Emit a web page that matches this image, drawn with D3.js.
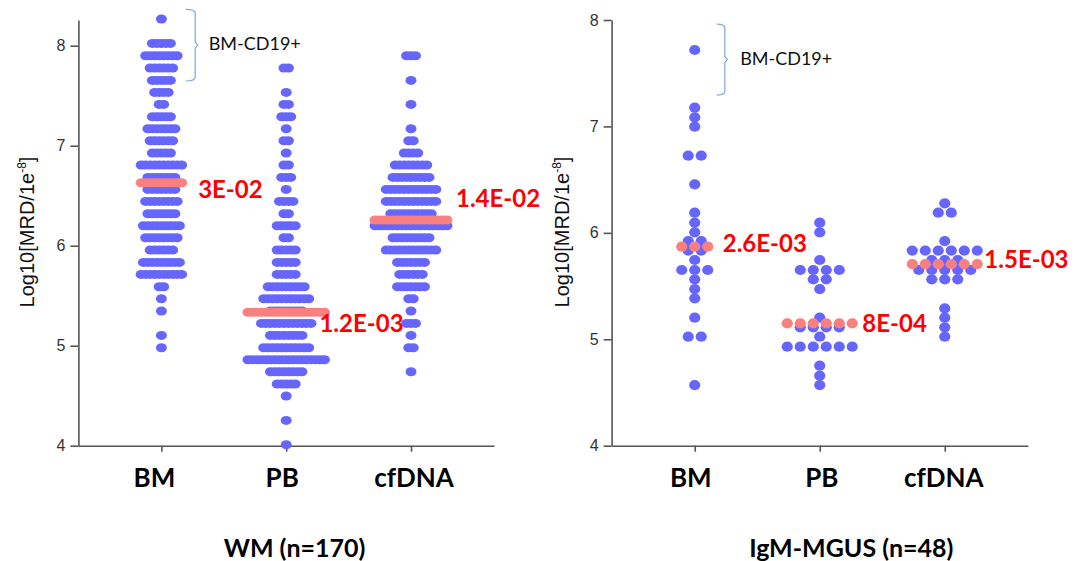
<!DOCTYPE html>
<html><head><meta charset="utf-8">
<script src="https://cdn.jsdelivr.net/npm/d3@7"></script>
<style>body{margin:0;background:#fff}</style>
</head><body><svg id="c" width="1075" height="561"></svg>
<script>
const categories = ["BM","PB","cfDNA"];
const yTicks = [4,5,6,7,8];
// WM panel rows: [log10(MRD/1e-8), number of dots in the row]
const wmBM = [[8.267,1],[8.023,5],[7.90,8],[7.777,6],[7.653,5],[7.533,4],[7.413,2],[7.29,5],[7.17,7],[7.05,6],[6.927,5],[6.807,10],[6.683,7],[6.563,7],[6.443,8],[6.32,7],[6.2,9],[6.08,8],[5.957,6],[5.833,9],[5.713,10],[5.59,2],[5.47,1],[5.347,1],[5.103,1],[4.98,1]];
const wmPB = [[7.777,2],[7.533,1],[7.413,2],[7.29,3],[7.17,1],[7.05,2],[6.927,1],[6.807,2],[6.683,3],[6.563,1],[6.443,4],[6.32,2],[6.2,5],[6.08,2],[5.957,5],[5.833,5],[5.713,5],[5.59,9],[5.47,11],[5.347,8],[5.223,12],[5.103,8],[4.98,11],[4.86,18],[4.74,8],[4.617,5],[4.497,1],[4.253,1],[4.01,1]];
const wmCF = [[7.9,3],[7.653,1],[7.413,1],[7.17,1],[7.05,2],[6.927,4],[6.807,8],[6.683,9],[6.563,12],[6.443,12],[6.32,10],[6.2,17],[6.08,9],[5.957,12],[5.833,7],[5.713,6],[5.59,7],[5.47,2],[5.347,1],[5.223,3],[5.103,1],[4.98,2],[4.74,1]];
const wmMedians = [6.63, 5.334, 6.257];
const wmMedianLabels = ["3E-02","1.2E-03","1.4E-02"];
// IgM-MGUS panel rows
const mgBM = [[7.718,1],[7.176,1],[7.085,1],[6.998,1],[6.725,2],[6.456,1],[6.19,1],[6.096,1],[6.005,1],[5.923,2],[5.833,2],[5.745,1],[5.651,3],[5.563,1],[5.472,1],[5.385,1],[5.203,1],[5.024,2],[4.57,1]];
const mgPB = [[6.096,1],[6.005,1],[5.745,1],[5.651,4],[5.563,2],[5.472,1],[5.203,1],[5.112,4],[5.024,1],[4.93,6],[4.752,1],[4.658,1],[4.57,1]];
const mgCF = [[6.277,1],[6.19,2],[5.923,1],[5.833,6],[5.745,3],[5.651,5],[5.563,3],[5.29,1],[5.203,1],[5.112,1],[5.024,1]];
const mgMedians = [5.87, 5.15, 5.707];
const mgMedianLabels = ["2.6E-03","8E-04","1.5E-03"];
const wmTitle = "WM (n=170)";
const mgTitle = "IgM-MGUS (n=48)";
const bracketLabel = "BM-CD19+";
const wmBracket = [7.647, 8.364];
const mgBracket = [7.295, 7.962];

const DOT = "#6666FF", MED = "#FA8080";
const svg = d3.select("#c");
const panels = [
 {groups:[wmBM,wmPB,wmCF], medians:wmMedians, medLabels:wmMedianLabels, title:wmTitle, bracket:wmBracket,
  left:78.4, right:494, top:20, bottom:445.7, yMax:8.257, step:4.5, rx:5.5, ry:4.5,
  labOff:[[11,15.3],[-10.5,19.2],[3.5,-13.4]], catDx:[-7,-4,3], yTitleX:34, braceDx:33.8, braceHook:9.5, braceTextDx:47.3, titleX:294.5},
 {groups:[mgBM,mgPB,mgCF], medians:mgMedians, medLabels:mgMedianLabels, title:mgTitle, bracket:mgBracket,
  left:611.6, right:1027.9, top:20, bottom:445.7, yMax:8, step:13, rx:5.6, ry:5.1,
  labOff:[[9.4,5],[4.5,8.4],[1.5,4.3]], catDx:[-4,2,-1], yTitleX:569, braceDx:30.1, braceHook:8, braceTextDx:45.4, titleX:851.3}
];

panels.forEach(p => {
  const g = svg.append("g");
  const x = d3.scalePoint().domain(categories).range([p.left, p.right]).padding(0.665);
  const y = d3.scaleLinear().domain([4, p.yMax]).range([p.bottom, p.top]);

  // axes
  const ya = g.append("g").attr("transform", `translate(${p.left},0)`)
    .call(d3.axisLeft(y).tickValues(yTicks).tickSize(8).tickPadding(5).tickSizeOuter(0).tickFormat(d3.format("d")));
  const xa = g.append("g").attr("transform", `translate(0,${p.bottom})`)
    .call(d3.axisBottom(x).tickSize(6).tickSizeOuter(0).tickFormat(""));
  [ya, xa].forEach(a => {
    a.select(".domain").attr("stroke", "#555").attr("stroke-width", 1.6);
    a.selectAll(".tick line").attr("stroke", "#555").attr("stroke-width", 1.6);
    a.selectAll(".tick text").attr("fill", "#333").style("font-family", "'Liberation Sans', Arial, sans-serif").style("font-size", "16px");
  });

  // dots
  const dots = [];
  p.groups.forEach((rows, gi) => {
    rows.forEach(([v, n]) => {
      for (let k = 0; k < n; k++) dots.push({cat: categories[gi], v, off: (k - (n - 1) / 2) * p.step});
    });
  });
  g.append("g").selectAll("ellipse").data(dots).join("ellipse")
    .attr("cx", d => x(d.cat) + d.off).attr("cy", d => y(d.v))
    .attr("rx", p.rx).attr("ry", p.ry).attr("fill", DOT);

  // medians
  const meds = [];
  p.groups.forEach((rows, gi) => {
    const n = d3.max(rows, r => r[1]);
    for (let k = 0; k < n; k++) meds.push({cat: categories[gi], v: p.medians[gi], off: (k - (n - 1) / 2) * p.step});
  });
  g.append("g").selectAll("ellipse").data(meds).join("ellipse")
    .attr("cx", d => x(d.cat) + d.off).attr("cy", d => y(d.v))
    .attr("rx", p.rx).attr("ry", p.ry).attr("fill", MED);

  // median labels
  g.append("g").selectAll("text").data(p.medLabels).join("text")
    .attr("x", (d, i) => x(categories[i]) + (d3.max(p.groups[i], r => r[1]) - 1) / 2 * p.step + p.rx + p.labOff[i][0])
    .attr("y", (d, i) => y(p.medians[i]) + p.labOff[i][1])
    .attr("fill", "#FF0000").style("font-family", "Lato, sans-serif").style("font-weight", "bold").style("font-size", "24px")
    .text(d => d);

  // category labels
  g.append("g").selectAll("text").data(categories).join("text")
    .attr("x", (d, i) => x(d) + p.catDx[i]).attr("y", 487).attr("text-anchor", "middle")
    .attr("fill", "#000").style("font-family", "Lato, sans-serif").style("font-weight", "bold").style("font-size", "26px")
    .text(d => d);

  // title
  g.append("text").attr("x", p.titleX).attr("y", 557).attr("text-anchor", "middle")
    .attr("fill", "#000").style("font-family", "Lato, sans-serif").style("font-weight", "bold").style("font-size", "25px")
    .text(p.title);

  // y axis title
  const yt = g.append("text").attr("transform", `translate(${p.yTitleX},232) rotate(-90)`).attr("text-anchor", "middle")
    .attr("fill", "#111").style("font-family", "'Liberation Sans', Arial, sans-serif").style("font-size", "20px");
  yt.append("tspan").text("Log10[MRD/1e");
  yt.append("tspan").attr("dy", -8).style("font-size", "12px").text("-8");
  yt.append("tspan").attr("dy", 8).text("]");

  // bracket
  const cx = x(categories[0]);
  const ytop = y(p.bracket[1]), ybot = y(p.bracket[0]), ym = (ytop + ybot) / 2;
  const xv = cx + p.braceDx, xh = xv - p.braceHook;
  g.append("path")
    .attr("d", `M${xh},${ytop} Q${xv},${ytop} ${xv},${ytop+4} L${xv},${ym-3} L${xv+2.5},${ym} L${xv},${ym+3} L${xv},${ybot-4} Q${xv},${ybot} ${xh},${ybot}`)
    .attr("fill", "none").attr("stroke", "#7FA7D9").attr("stroke-width", 1.2);
  g.append("text").attr("x", cx + p.braceTextDx).attr("y", ym + 5)
    .attr("fill", "#111").style("font-family", "Lato, sans-serif").style("font-size", "18px")
    .text(bracketLabel);
});
</script>
</body></html>
